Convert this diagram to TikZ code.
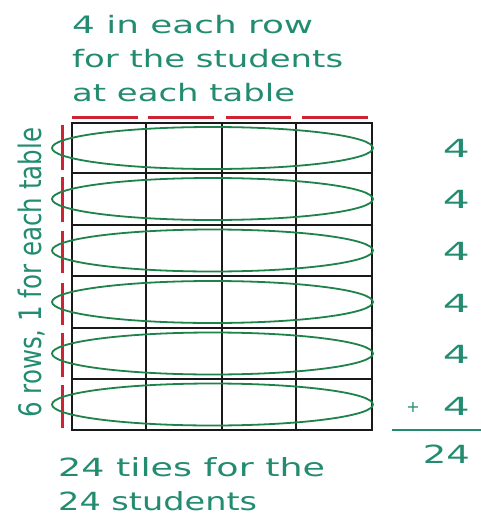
\documentclass[tikz,border=0pt]{standalone}
\usepackage{fontspec}
\setmainfont{DejaVu Sans}
\usepackage{graphicx}
\newsavebox\fitbox
\newcommand\fitto[2]{\sbox\fitbox{#2}\pgfmathsetmacro\fitfac{#1/\wd\fitbox}\scalebox{\fitfac}[1]{\usebox\fitbox}}
\definecolor{txt}{RGB}{35,140,112}
\definecolor{ell}{RGB}{30,130,75}
\definecolor{redl}{RGB}{205,35,50}
\begin{document}
\begin{tikzpicture}[x=1pt,y=-1pt,
  lbl/.style={inner sep=0pt,anchor=base west,text=txt},
  gridline/.style={line width=2.8pt,black!90},
  ringline/.style={draw=ell,line width=1.8pt},
  redmark/.style={draw=redl,line width=3pt}]
\useasboundingbox (0,0) rectangle (481,517);
% top text
\node[lbl,font=\fontsize{24}{24}\selectfont] (t1) at (72,33) {\fitto{241}{4 in each row}};
\node[lbl,font=\fontsize{24}{24}\selectfont] (t2) at (72,67) {\fitto{271}{for the students}};
\node[lbl,font=\fontsize{24}{24}\selectfont] (t3) at (72,101) {\fitto{223}{at each table}};
% top red marks
\foreach \a/\b in {72/138,148/214,226/291,302/368}
  \draw[redmark] (\a,117) -- (\b,117);
% grid
\draw[gridline] (72,123) rectangle (372,430);
\foreach \x in {146,222,296} \draw[gridline] (\x,123) -- (\x,430);
\foreach \y in {173,225,276,328,379} \draw[gridline] (72,\y) -- (372,\y);
% left red marks
\foreach \a/\b in {125/170,177/222,231/273,283/325,333/377,385/428}
  \draw[redmark] (62,\a) -- (62,\b);
% ellipses
\foreach \c in {148,199,250.5,302,353.5,404.5}
  \draw[ringline] (212.5,\c) ellipse [x radius=160.5pt, y radius=21pt];
% vertical text
\node[lbl,rotate=90,font=\fontsize{31}{31}\selectfont] (side) at (41,418) {\fitto{290}{6 rows, 1 for each table}};
% right column
\foreach \y/\n in {157/n1,208/n2,260/n3,312/n4,363/n5,415/n6}
  \node[lbl,anchor=base east,font=\fontsize{25}{25}\selectfont] (\n) at (470,\y) {\fitto{27}{4}};
\node[lbl,anchor=center,font=\fontsize{16}{16}\selectfont] (plus) at (413,407) {+};
\coordinate (ul) at (392,430);
\coordinate (ur) at (481,430);
\draw[txt,line width=1.6pt] (ul) -- (ur);
\node[lbl,anchor=base east,font=\fontsize{25}{25}\selectfont] (sum) at (470,463) {\fitto{47}{24}};
% bottom text
\node[lbl,font=\fontsize{25}{25}\selectfont] (b1) at (58,476) {\fitto{267}{24 tiles for the}};
\node[lbl,font=\fontsize{25}{25}\selectfont] (b2) at (58,510) {\fitto{199}{24 students}};
\end{tikzpicture}
\end{document}
